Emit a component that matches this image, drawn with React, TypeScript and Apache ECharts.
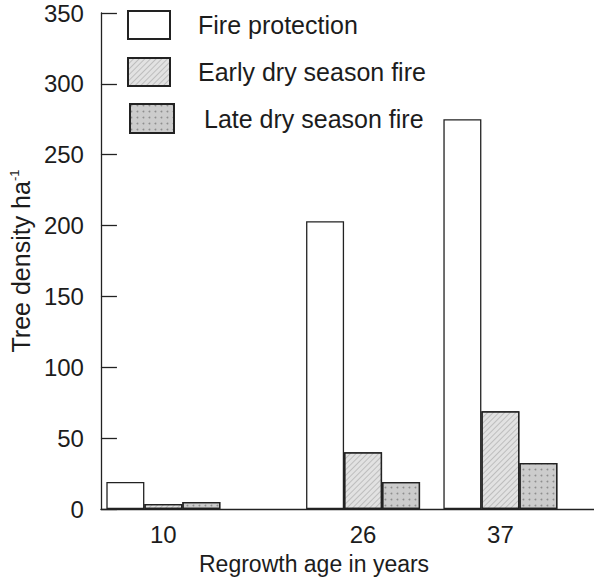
import React, { useEffect, useRef } from "react";
import * as echarts from "echarts";

const ages = [10, 26, 37];
const fireProtection = [19, 203, 275];
const earlyDry = [3.5, 40, 69];
const lateDry = [5, 19, 32.5];
const yTicks = [0, 50, 100, 150, 200, 250, 300, 350];
const seriesNames = ["Fire protection", "Early dry season fire", "Late dry season fire"];

const FONT = "'Liberation Sans', Arial, sans-serif";
const TXT = "#1c1c1c";

export default function App() {
  const ref = useRef<HTMLDivElement>(null);
  useEffect(() => {
    if (!ref.current) return;
    const chart = echarts.init(ref.current, undefined, { renderer: "svg" });
    const pairs = (vals: number[]) => ages.map((a, i) => [a, vals[i]]);
    const barBase = {
      type: "bar" as const,
      barWidth: 38,
      barGap: "0%",
    };
    chart.setOption({
      animation: false,
      backgroundColor: "#ffffff",
      textStyle: { fontFamily: FONT, color: TXT },
      grid: { left: 100, right: 0, top: 13, bottom: 74 },
      legend: [
        {
          data: [seriesNames[0], seriesNames[1]],
          orient: "vertical",
          left: 127,
          top: 10,
          padding: 0,
          itemWidth: 42,
          itemHeight: 28,
          itemGap: 17,
          icon: "rect",
          textStyle: { fontFamily: FONT, fontSize: 25, color: TXT, padding: [0, 0, 0, 23] },
        },
        {
          data: [seriesNames[2]],
          orient: "vertical",
          left: 129,
          top: 103,
          padding: 0,
          itemWidth: 44,
          itemHeight: 29,
          icon: "rect",
          textStyle: { fontFamily: FONT, fontSize: 25, color: TXT, padding: [0, 0, 0, 25] },
        },
      ],
      xAxis: {
        type: "value",
        min: 5,
        max: 44.5,
        axisLine: { show: true, lineStyle: { color: "#222", width: 1.3 } },
        axisTick: { show: false },
        splitLine: { show: false },
        axisLabel: {
          customValues: ages,
          fontFamily: FONT,
          fontSize: 24,
          color: TXT,
          margin: 13,
          formatter: (v: number) => String(v),
        },
      },
      yAxis: {
        type: "value",
        min: 0,
        max: 350,
        interval: 50,
        name: "{a|Tree density ha}{s|-1}",
        nameLocation: "middle",
        nameGap: 64,
        nameTextStyle: {
          rich: {
            a: { fontFamily: FONT, fontSize: 25, color: TXT },
            s: { fontFamily: FONT, fontSize: 13, color: TXT, verticalAlign: "top", padding: [0, 0, 12, 0] },
          },
        },
        axisLine: { show: true, lineStyle: { color: "#222", width: 1.3 } },
        axisTick: { show: true, inside: true, length: 16, lineStyle: { color: "#222", width: 1.3 } },
        splitLine: { show: false },
        axisLabel: {
          fontFamily: FONT,
          fontSize: 24,
          color: TXT,
          margin: 17,
          customValues: yTicks,
        },
      },
      graphic: [
        {
          type: "text",
          left: 199,
          top: 552,
          style: { text: "Regrowth age in years", font: `23px ${FONT}`, fill: TXT },
        },
      ],
      series: [
        {
          ...barBase,
          name: seriesNames[0],
          data: pairs(fireProtection),
          itemStyle: { color: "#ffffff", borderColor: "#222", borderWidth: 1.3 },
        },
        {
          ...barBase,
          name: seriesNames[1],
          data: pairs(earlyDry),
          itemStyle: {
            color: "#e2e2e2",
            borderColor: "#222",
            borderWidth: 1.3,
            decal: {
              symbol: "rect",
              color: "rgba(0,0,0,0.16)",
              dashArrayX: [1, 0],
              dashArrayY: [1, 3],
              rotation: -Math.PI / 4,
            },
          },
        },
        {
          ...barBase,
          name: seriesNames[2],
          data: pairs(lateDry),
          itemStyle: {
            color: "#cccccc",
            borderColor: "#222",
            borderWidth: 1.3,
            decal: {
              symbol: "circle",
              symbolSize: 0.6,
              color: "rgba(0,0,0,0.3)",
              dashArrayX: 2.5,
              dashArrayY: 2.5,
            },
          },
        },
      ],
    });
    return () => chart.dispose();
  }, []);
  return (
    <div
      ref={ref}
      style={{ position: "absolute", left: 0, top: 0, width: 594, height: 583 }}
    />
  );
}
